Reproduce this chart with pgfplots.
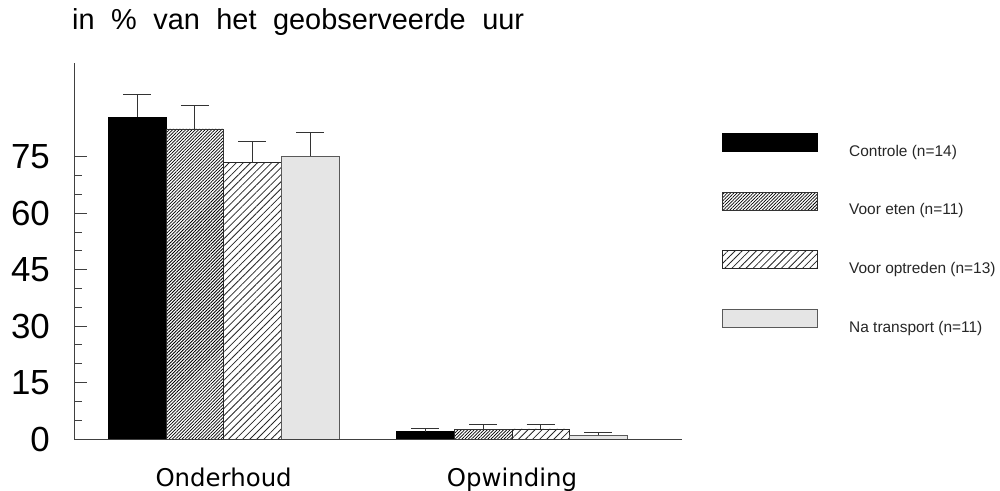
\documentclass[border=0pt]{standalone}
\usepackage{pgfplots}
\pgfplotsset{compat=1.18}
\usetikzlibrary{patterns.meta}
\usepackage{fontspec}
\setmainfont{Liberation Sans}
\newfontfamily\dejavu{DejaVu Sans}
\newcommand\titlefont{\fontsize{29}{32}\selectfont\spaceskip=16.5bp\relax}

\pgfplotsset{errstyle/.style={error bars/.cd, y dir=plus, y explicit, error mark=-,
    error bar style={black!80, line width=1bp},
    error mark options={rotate=90, black!80, line width=1bp, mark size=14bp}}}

\begin{document}
\begin{tikzpicture}
\useasboundingbox (0,0) rectangle (1000bp,491bp);
\begin{axis}[
  at={(74bp,52bp)}, anchor=south west,
  scale only axis, width=608bp, height=376bp,
  xmin=0.481, xmax=2.59, ymin=0, ymax=100,
  axis x line=bottom, axis y line=left,
  axis line style={-, black!75, line width=1bp},
  ybar, bar shift=0pt, bar width=0.2,
  xtick={1,2}, xticklabels={Onderhoud,Opwinding},
  x tick style={draw=none},
  xticklabel style={font=\dejavu\fontsize{24.5}{26}\selectfont, inner sep=0pt, anchor=north, yshift=-28.5bp},
  ytick={0,15,30,45,60,75},
  minor ytick={5,10,20,25,35,40,50,55,65,70},
  tick align=inside,
  major tick length=13bp, minor tick length=8bp,
  y tick style={black!75, line width=1bp},
  /pgf/number format/assume math mode=true,
  yticklabel style={font=\fontsize{35}{36}\selectfont, inner sep=0pt, anchor=east, xshift=-24bp},
  title={in \% van het geobserveerde uur},
  title style={at={(-0.0033,1.0745)}, anchor=base west, inner sep=0pt,
    font=\titlefont},
  legend image code/.code={\draw[#1, line width=1bp] (0bp,0bp) rectangle (95bp,18bp);},
  legend style={at={(1.0658,0.8146)}, anchor=north west, draw=none, fill=none,
    inner sep=0pt, row sep=33.9bp, column sep=31bp,
    nodes={inner sep=0pt, font=\fontsize{15.5}{17}\selectfont, text=black!85}},
  legend cell align=left,
]
\addplot[fill=black, draw=black, errstyle]
  coordinates {(0.7,85.6) +- (0,6.0) (1.7,1.95) +- (0,0.85)};
\addlegendentry{Controle (n=14)}
\addplot[pattern={Lines[angle=45,distance=2.3bp,line width=0.8bp]}, pattern color=black, draw=black!80, errstyle]
  coordinates {(0.9,82.5) +- (0,6.1) (1.9,2.6) +- (0,1.3)};
\addlegendentry{Voor eten (n=11)}
\addplot[pattern={Lines[angle=45,distance=5bp,line width=0.8bp]}, pattern color=black!85, draw=black!85, errstyle]
  coordinates {(1.1,73.5) +- (0,5.7) (2.1,2.7) +- (0,1.15)};
\addlegendentry{Voor optreden (n=13)}
\addplot[fill=black!10, draw=black!65, errstyle]
  coordinates {(1.3,75.2) +- (0,6.2) (2.3,1.0) +- (0,0.85)};
\addlegendentry{Na transport (n=11)}
\end{axis}
\end{tikzpicture}
\end{document}
